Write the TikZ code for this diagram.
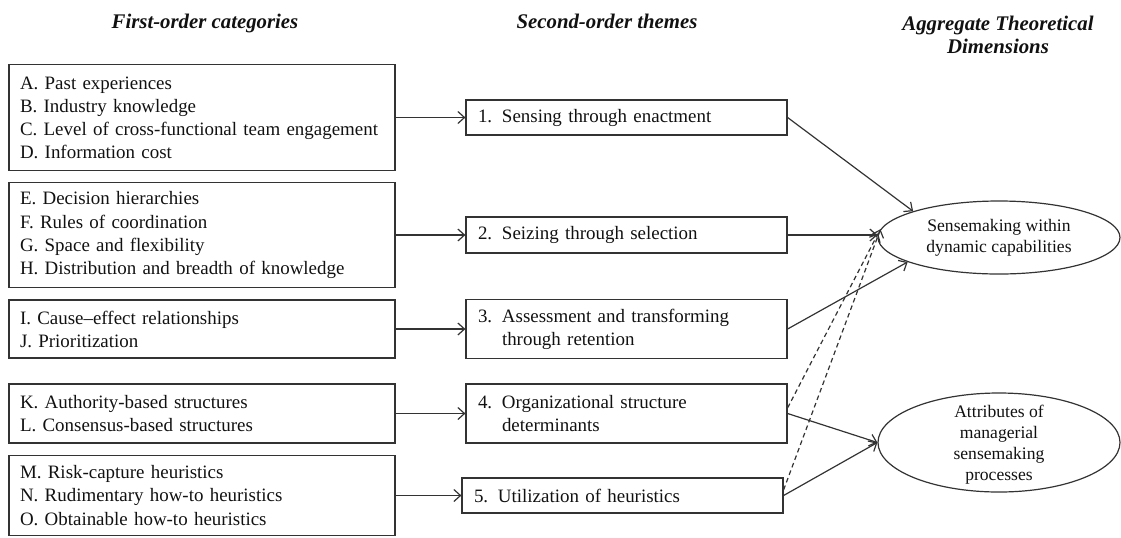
\documentclass[tikz,border=0pt]{standalone}
\usepackage{fontspec}
\setmainfont{Liberation Serif}
\usetikzlibrary{shapes.geometric,arrows.meta}
\definecolor{linec}{HTML}{333333}
\definecolor{txt}{HTML}{111111}
\newcommand\myBody{\fontsize{14.2pt}{17.3pt}\selectfont}
\newcommand\myEll{\fontsize{13.2pt}{15.9pt}\selectfont}
\newcommand\myHead{\fontsize{15.6pt}{17.3pt}\selectfont\bfseries\itshape}
\newcommand\numitem[2]{\makebox[18pt][l]{#1}\parbox[t]{200pt}{#2}}
\begin{document}
\begin{tikzpicture}[x=0.75pt,y=-0.75pt,
  lbox/.style={draw=linec, line width=0.9pt, rectangle, inner xsep=8.25pt, inner ysep=0pt,
    text width=273pt, align=left, font=\myBody, text=txt},
  sbox/.style={draw=linec, line width=0.9pt, rectangle, inner xsep=9pt, inner ysep=0pt,
    text width=222.75pt, align=left, font=\myBody, text=txt},
  ellbox/.style={draw=linec, line width=0.9pt, ellipse, inner sep=0pt, minimum width=181.5pt},
  ellt/.style={align=center, font=\myEll, text=txt},
  head/.style={font=\myHead, text=txt, inner sep=0pt},
  arr/.style={draw=linec, line width=0.9pt, -{Straight Barb[length=5pt,width=9pt]}},
  darr/.style={arr, dash pattern=on 3.5pt off 2.5pt}
]
\useasboundingbox (0,0) rectangle (1121,537);

% headers
\node[head, anchor=base] (h1) at (205,28) {First-order categories};
\node[head, anchor=base] (h2) at (607,28) {Second-order themes};
\node[head, align=center, anchor=north] (h3) at (998,16) {Aggregate Theoretical\\Dimensions};

% first-order boxes
\node[lbox, minimum height=79.5pt] (l1) at (202,117.5)
  {A. Past experiences\\B. Industry knowledge\\\mbox{C. Level of cross-functional team engagement}\\D. Information cost};
\node[lbox, minimum height=78.75pt] (l2) at (202,235)
  {E. Decision hierarchies\\F. Rules of coordination\\G. Space and flexibility\\H. Distribution and breadth of knowledge};
\node[lbox, minimum height=43.5pt] (l3) at (202,329)
  {I. Cause--effect relationships\\J. Prioritization};
\node[lbox, minimum height=44.25pt] (l4) at (202,413.5)
  {K. Authority-based structures\\L. Consensus-based structures};
\node[lbox, minimum height=60pt] (l5) at (202,495.5)
  {M. Risk-capture heuristics\\N. Rudimentary how-to heuristics\\O. Obtainable how-to heuristics};

% second-order boxes
\node[sbox, minimum height=26.25pt] (s1) at (626.5,117.5) {\numitem{1.}{Sensing through enactment}};
\node[sbox, minimum height=27pt] (s2) at (626.5,235) {\numitem{2.}{Seizing through selection}};
\node[sbox, minimum height=44.25pt] (s3) at (626.5,329) {\numitem{3.}{Assessment and transforming\\through retention}};
\node[sbox, minimum height=44.25pt] (s4) at (626.5,413.5) {\numitem{4.}{Organizational structure\\determinants}};
\node[sbox, minimum height=26.25pt] (s5) at (622.5,495.5) {\numitem{5.}{Utilization of heuristics}};

% aggregate dimensions
\node[ellbox, minimum height=54.75pt,
  label={[ellt]center:Sensemaking within\\dynamic capabilities}] (e1) at (999,237.5) {};
\node[ellbox, minimum height=74.25pt,
  label={[ellt, yshift=-1.5pt]center:Attributes of\\managerial\\sensemaking\\processes}] (e2) at (999,442.5) {};

% connectors first -> second
\draw[arr] (l1.east) -- (l1.east -| s1.west);
\draw[arr] (l2.east) -- (l2.east -| s2.west);
\draw[arr] (l3.east) -- (l3.east -| s3.west);
\draw[arr] (l4.east) -- (l4.east -| s4.west);
\draw[arr] (l5.east) -- (l5.east -| s5.west);

% connectors second -> aggregate
\draw[arr] (s1.east) -- (e1.163);
\draw[arr] (s2.east) -- (s2.east -| e1.west);
\draw[arr] (s3.east) -- (e1.195);
\draw[arr] (s4.east) -- (e2.west);
\draw[arr] (s5.east) -- (e2.west);
\draw[darr] (s4.2) -- (e1.178);
\draw[darr] (s5.2) -- (e1.176);
\end{tikzpicture}
\end{document}
